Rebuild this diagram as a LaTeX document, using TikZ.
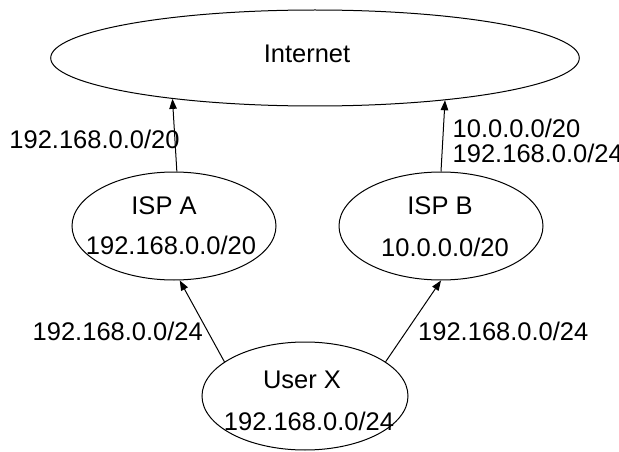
\documentclass[tikz,border=0pt]{standalone}
\usepackage{fontspec}
\setmainfont{Liberation Sans}
\usetikzlibrary{shapes.geometric,arrows.meta}
\begin{document}
\begin{tikzpicture}[x=1pt,y=-1pt,
  every node/.style={font=\fontsize{25.5}{25.5}\selectfont},
  cloud/.style={draw, ellipse, line width=1pt, inner sep=0pt},
  txt/.style={inner sep=0pt, anchor=base},
  lbl/.style={inner sep=0pt, anchor=base west},
  link/.style={line width=1pt, -{Triangle[length=10pt,width=7.5pt]}}]
\useasboundingbox (0,0) rectangle (619,452);

% network clouds
\node[cloud, minimum width=528.6pt, minimum height=96pt] (net) at (315,58) {};
\node[cloud, minimum width=204pt, minimum height=108pt] (ispa) at (174,226) {};
\node[cloud, minimum width=204pt, minimum height=108pt] (ispb) at (441,226) {};
\node[cloud, minimum width=206pt, minimum height=108pt] (ux) at (305,396) {};

% names and prefixes inside the clouds
\node[txt] (nettxt) at (307,63) {Internet};
\node[txt] (ispaname) at (164,214) {ISP A};
\node[txt] (ispanet) at (171,254) {192.168.0.0/20};
\node[txt] (ispbname) at (440,214) {ISP B};
\node[txt] (ispbnet) at (445,256.5) {10.0.0.0/20};
\node[txt] (uxname) at (302,388) {User X};
\node[txt] (uxnet) at (309,430) {192.168.0.0/24};

% route announcements
\draw[link] (ispa.87) -- (net.196.5);
\draw[link] (ispb.north) -- (net.-18.4);
\draw[link] (ux.157) -- (ispa.-84);
\draw[link] (ux.23) -- (ispb.south);

% announced prefixes
\node[lbl] (annA) at (9.2,148) {192.168.0.0/20};
\node[lbl] (annB1) at (452.5,137) {10.0.0.0/20};
\node[lbl] (annB2) at (452.5,162) {192.168.0.0/24};
\node[lbl] (annXA) at (32.5,340) {192.168.0.0/24};
\node[lbl] (annXB) at (418,340) {192.168.0.0/24};
\end{tikzpicture}
\end{document}
